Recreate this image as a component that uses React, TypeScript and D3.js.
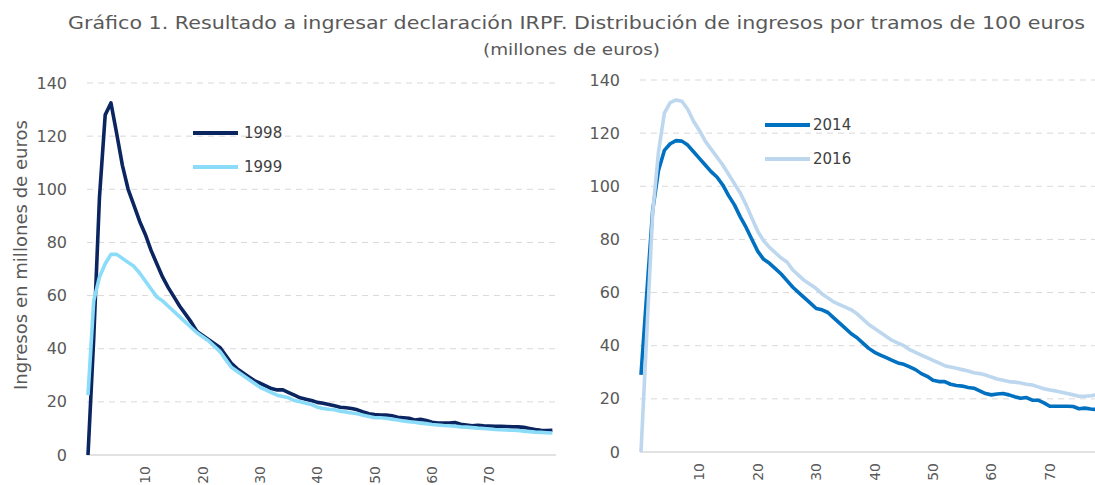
import React from "react";
import * as d3 from "d3";

// ingresos por tramos de 100 euros (millones de euros), tramo 0..81
const s1998 = [
  0, 44, 97, 128, 132.5, 121, 109, 100, 94, 88, 83, 77, 72, 67, 63, 59.5, 56, 53, 50, 46.5,
  45, 43.5, 42, 40.5, 37.5, 34.5, 32.5, 31, 29.5, 28, 27, 26, 25, 24.5, 24.5, 23.5, 22.5, 21.5, 21, 20.5,
  19.8, 19.5, 19, 18.5, 18, 17.8, 17.5, 17, 16.2, 15.5, 15.2, 15, 15, 14.8, 14.2, 14, 13.8, 13.2, 13.4, 13,
  12.3, 12, 12, 12, 12.2, 11.6, 11.3, 11, 11.2, 11, 10.9, 10.8, 10.8, 10.7, 10.6, 10.6, 10.4, 10, 9.6, 9.3,
  9.2, 9.3,
];
const s1999 = [
  22.5, 58, 67, 72, 75.5, 75.5, 74, 72.5, 71, 68.5, 65.5, 62.5, 59.5, 58, 56, 54, 52, 50, 48, 46,
  44.5, 43, 41, 39, 36, 33, 31.5, 30, 28.5, 27, 25.5, 24.5, 23.5, 22.5, 22, 21.5, 20.5, 20, 19.5, 19,
  18, 17.5, 17.2, 17, 16.5, 16.2, 15.8, 15.5, 15, 14.5, 14, 14, 13.8, 13.5, 13.2, 12.8, 12.5, 12.3, 12, 11.8,
  11.5, 11.3, 11.1, 11, 10.8, 10.6, 10.5, 10.3, 10.1, 10, 9.8, 9.6, 9.5, 9.4, 9.3, 9.2, 9, 8.8, 8.6, 8.5,
  8.4, 8.3,
];
const s2014 = [
  29, 60, 91, 106, 113.5, 116, 117.2, 117, 115.5, 113, 110.5, 108, 105.5, 103.5, 100.5, 96.5, 93, 88.5, 84.5, 80,
  75.5, 72.5, 71, 69, 67, 64.5, 62, 60, 58, 56, 54, 53.5, 52.5, 50.5, 48.5, 46.5, 44.5, 43, 41, 39,
  37.5, 36.5, 35.5, 34.5, 33.5, 33, 32, 31, 29.5, 28.5, 27, 26.5, 26.5, 25.5, 25, 24.8, 24.3, 24, 23, 22,
  21.5, 21.8, 22, 21.5, 20.8, 20.2, 20.5, 19.5, 19.5, 18.5, 17.2, 17.2, 17.2, 17.2, 17.1, 16.3, 16.5, 16.2, 16, 15.8,
  15.6, 15.5,
];
const s2016 = [
  0, 45, 90, 113, 127.5, 131.5, 132.5, 132, 129, 124.5, 121, 117, 114, 111, 108, 104.5, 101, 97.5, 93, 88,
  83, 79.5, 77, 75, 73, 71.5, 68.5, 66.5, 64.5, 63, 61.5, 59.5, 58, 56.5, 55.5, 54.5, 53.5, 52, 50, 48,
  46.5, 45, 43.5, 42, 41, 40, 38.5, 37.5, 36.5, 35.5, 34.5, 33.5, 32.5, 32, 31.5, 31, 30.5, 29.8, 29.5, 29,
  28.2, 27.5, 27, 26.5, 26.3, 26, 25.5, 25.2, 24.5, 23.8, 23.3, 23, 22.5, 22, 21.5, 21, 21, 21.2, 21.5, 21.5,
  21.5, 21.5,
];

const yTicks = [0, 20, 40, 60, 80, 100, 120, 140];
const xTicks = [10, 20, 30, 40, 50, 60, 70];

const TXT = "#595959";
const GRID = "#d9d9d9";
const FONT = "DejaVu Sans, Verdana, sans-serif";

type Series = { name: string; values: number[]; color: string };

const Panel = ({ left, right, lineX, top, bottom, gridRight, labelX, series, legendX, legendY, legendGap }: any) => {
  const x = d3.scaleLinear().domain([0, 81]).range([lineX, right]);
  const y = d3.scaleLinear().domain([0, 140]).range([bottom, top]);
  const line = d3
    .line<number>()
    .x((d, i) => x(i))
    .y(d => y(d));

  return (
    <g>
      {yTicks.map(t => (
        <g key={t}>
          {t > 0 && (
            <line x1={left} x2={gridRight} y1={y(t)} y2={y(t)} stroke={GRID} strokeWidth={1} strokeDasharray="6,5" />
          )}
          <text x={labelX} y={y(t)} dy="0.35em" textAnchor="end" fontSize={16} fill={TXT}>
            {t}
          </text>
        </g>
      ))}
      <line x1={left} x2={gridRight} y1={bottom} y2={bottom} stroke={GRID} strokeWidth={1.5} />
      {xTicks.map(t => (
        <text
          key={t}
          transform={`translate(${x(t)},${bottom + 11}) rotate(-90)`}
          dy="0.35em"
          textAnchor="end"
          fontSize={14}
          fill={TXT}
        >
          {t}
        </text>
      ))}
      {series.map((s: Series) => (
        <path key={s.name} d={line(s.values) || ""} fill="none" stroke={s.color} strokeWidth={3.6} strokeLinejoin="round" />
      ))}
      {series.map((s: Series, i: number) => (
        <g key={"lg" + s.name} transform={`translate(${legendX},${legendY + i * 34})`}>
          <line x1={0} x2={45} y1={0} y2={0} stroke={s.color} strokeWidth={4} />
          <text x={45 + legendGap} y={0} dy="0.35em" fontSize={15} fill="#404040">
            {s.name}
          </text>
        </g>
      ))}
    </g>
  );
};

const App = () => {
  const leftSeries: Series[] = [
    { name: "1998", values: s1998, color: "#0b2560" },
    { name: "1999", values: s1999, color: "#8adcf8" },
  ];
  const rightSeries: Series[] = [
    { name: "2014", values: s2014, color: "#0070c0" },
    { name: "2016", values: s2016, color: "#bdd7ee" },
  ];
  return (
    <svg
      width={1095}
      height={485}
      style={{ position: "absolute", left: 0, top: 0, background: "#fff" }}
      fontFamily={FONT}
    >
      <text x={68} y={29} fontSize={18} fill={TXT} textLength={1017} lengthAdjust="spacingAndGlyphs">
        Gráfico 1. Resultado a ingresar declaración IRPF. Distribución de ingresos por tramos de 100 euros
      </text>
      <text x={483} y={55} fontSize={15} fill={TXT} textLength={177} lengthAdjust="spacingAndGlyphs">
        (millones de euros)
      </text>
      <text
        transform="translate(27,255) rotate(-90)"
        textAnchor="middle"
        fontSize={18}
        fill={TXT}
        textLength={270}
        lengthAdjust="spacingAndGlyphs"
      >
        Ingresos en millones de euros
      </text>
      <Panel
        left={87}
        lineX={88}
        right={552.4}
        gridRight={556}
        top={83}
        bottom={455}
        labelX={67}
        series={leftSeries}
        legendX={193}
        legendY={133}
        legendGap={6}
      />
      <Panel
        left={640}
        lineX={641}
        right={641 + 81 * 5.84}
        gridRight={1120}
        top={80}
        bottom={452}
        labelX={620}
        series={rightSeries}
        legendX={765}
        legendY={125}
        legendGap={3}
      />
    </svg>
  );
};

export default App;
